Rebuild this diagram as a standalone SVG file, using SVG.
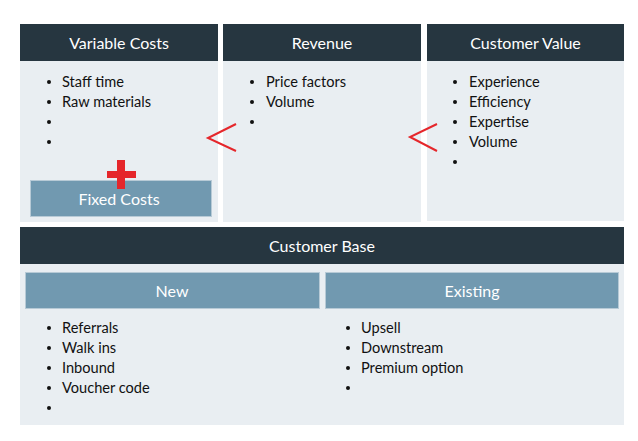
<svg xmlns="http://www.w3.org/2000/svg" width="638" height="441" viewBox="0 0 638 441">
<style>
.hd{fill:#263640}
.bd{fill:#e9eef2}
.sub{fill:#7199b0;stroke:#b7cad6;stroke-width:1}
.ht{font-family:Lato,"Open Sans",sans-serif;font-size:16px;fill:#ffffff;text-anchor:middle}
.bt{font-family:Lato,"Open Sans",sans-serif;font-size:14.6px;fill:#111111}
.dot{fill:#111111}
.red{fill:none;stroke:#e5262b;stroke-width:2}
</style>
<rect width="638" height="441" fill="#ffffff"/>
<g id="variable-costs">
<rect class="bd" x="20" y="24" width="198" height="198"/>
<rect class="hd" x="20" y="24" width="198" height="37"/>
<text class="ht" x="119" y="48.5">Variable Costs</text>
<circle class="dot" cx="49" cy="82" r="2"/><text class="bt" x="62" y="86.5">Staff time</text>
<circle class="dot" cx="49" cy="102" r="2"/><text class="bt" x="62" y="106.5">Raw materials</text>
<circle class="dot" cx="49" cy="122" r="2"/>
<circle class="dot" cx="49" cy="142" r="2"/>
</g>
<g id="fixed-costs">
<rect class="sub" x="30.5" y="180.5" width="181" height="36"/>
<text class="ht" x="119" y="205">Fixed Costs</text>
</g>
<g id="plus">
<rect x="107" y="171" width="29" height="7" fill="#e5262b"/>
<rect x="117" y="160" width="8" height="29" fill="#e5262b"/>
</g>
<g id="revenue">
<rect class="bd" x="223" y="24" width="198" height="198"/>
<rect class="hd" x="223" y="24" width="198" height="37"/>
<text class="ht" x="322" y="48.5">Revenue</text>
<circle class="dot" cx="252" cy="82" r="2"/><text class="bt" x="266" y="86.5">Price factors</text>
<circle class="dot" cx="252" cy="102" r="2"/><text class="bt" x="266" y="106.5">Volume</text>
<circle class="dot" cx="252" cy="122" r="2"/>
</g>
<g id="customer-value">
<rect class="bd" x="427" y="24" width="197" height="197"/>
<rect class="hd" x="427" y="24" width="197" height="37"/>
<text class="ht" x="525.5" y="48.5">Customer Value</text>
<circle class="dot" cx="455" cy="82" r="2"/><text class="bt" x="469" y="86.5">Experience</text>
<circle class="dot" cx="455" cy="102" r="2"/><text class="bt" x="469" y="106.5">Efficiency</text>
<circle class="dot" cx="455" cy="122" r="2"/><text class="bt" x="469" y="126.5">Expertise</text>
<circle class="dot" cx="455" cy="142" r="2"/><text class="bt" x="469" y="146.5">Volume</text>
<circle class="dot" cx="455" cy="162" r="2"/>
</g>
<g id="connectors">
<polyline class="red" points="236,124 208,138 236,151"/>
<polyline class="red" points="437,124 410,137 437,151"/>
</g>
<g id="customer-base">
<rect class="bd" x="20" y="227" width="604" height="198"/>
<rect class="hd" x="20" y="227" width="604" height="37"/>
<text class="ht" x="322" y="251.5">Customer Base</text>
</g>
<g id="new">
<rect class="sub" x="25.5" y="272.5" width="294" height="36"/>
<text class="ht" x="172" y="297">New</text>
<circle class="dot" cx="49" cy="328" r="2"/><text class="bt" x="62" y="332.5">Referrals</text>
<circle class="dot" cx="49" cy="348" r="2"/><text class="bt" x="62" y="352.5">Walk ins</text>
<circle class="dot" cx="49" cy="368" r="2"/><text class="bt" x="62" y="372.5">Inbound</text>
<circle class="dot" cx="49" cy="388" r="2"/><text class="bt" x="62" y="392.5">Voucher code</text>
<circle class="dot" cx="49" cy="408" r="2"/>
</g>
<g id="existing">
<rect class="sub" x="325.5" y="272.5" width="293" height="36"/>
<text class="ht" x="472" y="297">Existing</text>
<circle class="dot" cx="348" cy="328" r="2"/><text class="bt" x="361" y="332.5">Upsell</text>
<circle class="dot" cx="348" cy="348" r="2"/><text class="bt" x="361" y="352.5">Downstream</text>
<circle class="dot" cx="348" cy="368" r="2"/><text class="bt" x="361" y="372.5">Premium option</text>
<circle class="dot" cx="348" cy="388" r="2"/>
</g>
</svg>
